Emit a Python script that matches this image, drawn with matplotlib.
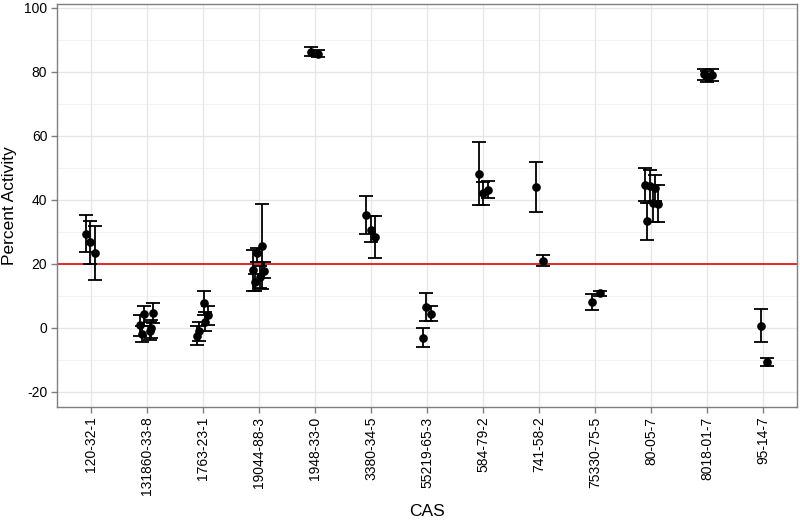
import matplotlib
matplotlib.use("Agg")
import matplotlib.pyplot as plt
import numpy as np

plt.rcParams['font.family'] = ['Liberation Sans', 'DejaVu Sans']

categories = ["120-32-1", "131860-33-8", "1763-23-1", "19044-88-3", "1948-33-0",
              "3380-34-5", "55219-65-3", "584-79-2", "741-58-2", "75330-75-5",
              "80-05-7", "8018-01-7", "95-14-7"]

# index of category for each measurement
cat_idx = [0, 0, 0,
           1, 1, 1, 1, 1, 1,
           2, 2, 2, 2, 2,
           3, 3, 3, 3, 3, 3,
           4, 4,
           5, 5, 5,
           6, 6, 6,
           7, 7, 7,
           8, 8,
           9, 9,
           10, 10, 10, 10, 10, 10,
           11, 11, 11,
           12, 12]
# horizontal jitter (category units)
jitter = [-0.09, -0.01, 0.07,
          -0.05, 0.12, -0.12, -0.08, 0.05, 0.08,
          0.02, 0.10, 0.04, -0.06, -0.10,
          0.05, -0.03, -0.10, 0.10, 0.02, -0.06,
          -0.07, 0.06,
          -0.08, 0.00, 0.08,
          -0.08, -0.01, 0.08,
          -0.08, 0.00, 0.08,
          -0.05, 0.07,
          -0.05, 0.08,
          -0.12, -0.02, 0.06, -0.07, 0.04, 0.12,
          -0.06, 0.00, 0.08,
          -0.05, 0.07]
activity = [29.5, 26.7, 23.3,
            4.2, 4.7, 0.8, -2.0, -1.0, 0.0,
            7.7, 4.0, 2.0, -1.0, -2.5,
            25.5, 23.5, 18.0, 17.8, 16.0, 14.3,
            86.3, 85.6,
            35.2, 30.5, 28.5,
            -3.0, 6.5, 4.5,
            48.2, 42.0, 43.2,
            44.0, 21.0,
            8.1, 10.8,
            44.7, 44.2, 43.6, 33.3, 39.0, 38.8,
            79.2, 78.6, 79.0,
            0.7, -10.7]
lower = [23.8, 20.0, 15.0,
         0.5, 1.5, -2.5, -4.3, -3.7, -3.1,
         4.0, 1.0, -1.0, -4.0, -5.3,
         12.3, 20.5, 11.6, 15.5, 12.6, 11.6,
         84.8, 84.6,
         29.3, 27.0, 22.0,
         -6.1, 2.2, 2.2,
         38.4, 38.4, 40.7,
         36.2, 19.5,
         5.6, 10.0,
         39.5, 39.0, 39.5, 27.6, 33.2, 33.2,
         77.5, 76.8, 77.2,
         -4.5, -11.8]
upper = [35.3, 33.4, 31.7,
         6.9, 7.8, 4.0, 0.5, 1.8, 2.5,
         11.4, 7.0, 5.0, 2.0, 0.5,
         38.7, 25.0, 24.5, 20.5, 19.5, 17.0,
         87.7, 86.8,
         41.2, 35.0, 35.0,
         0.1, 10.8, 6.9,
         58.0, 45.7, 45.9,
         51.8, 22.8,
         10.5, 11.5,
         49.9, 49.2, 47.8, 39.0, 44.6, 44.5,
         80.9, 80.4, 80.8,
         5.8, -9.5]
threshold = 20
y_ticks = [-20, 0, 20, 40, 60, 80, 100]

fig = plt.figure(figsize=(8.0, 5.26), dpi=100)
ax = fig.add_axes([57/800, 1 - 407/526, 740/800, 403/526])

x = np.array(cat_idx) + np.array(jitter)
y = np.array(activity)
yerr = np.vstack([y - np.array(lower), np.array(upper) - y])

# grid
ax.set_xlim(-0.6, len(categories) - 1 + 0.6)
ax.set_ylim(-24.7, 101.2)
for v in np.arange(-10, 101, 20):
    ax.axhline(v, color='#F3F3F3', lw=0.8, zorder=0)
for v in y_ticks:
    ax.axhline(v, color='#E6E6E6', lw=0.9, zorder=0)
for i in range(len(categories)):
    ax.axvline(i, color='#E6E6E6', lw=0.9, zorder=0)

ax.axhline(threshold, color='#E0191C', lw=1.3, zorder=2)

ax.errorbar(x, y, yerr=yerr, fmt='o', color='black', ecolor='black',
            elinewidth=1.3, capsize=5.0, capthick=1.3, markersize=5.2, zorder=3)

ax.set_xticks(range(len(categories)))
ax.set_xticklabels(categories, rotation=90, fontsize=10)
ax.set_yticks(y_ticks)
ax.set_yticklabels([str(v) for v in y_ticks], fontsize=10)
ax.tick_params(axis='both', color='#7F7F7F', length=4, width=1, pad=3, labelcolor='black')
for s in ax.spines.values():
    s.set_color('#7F7F7F')
    s.set_linewidth(1.0)

ax.set_xlabel("CAS", fontsize=12.5, labelpad=6)
ax.set_ylabel("Percent Activity", fontsize=12.5, labelpad=5)

fig.savefig("out.png", dpi=100)
